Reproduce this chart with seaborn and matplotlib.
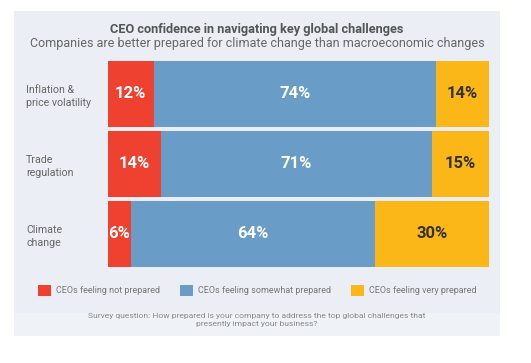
import numpy as np
import matplotlib.pyplot as plt
import seaborn as sns
import pandas as pd
from matplotlib.patches import Rectangle, Patch

# Data
challenges = ['Inflation &\nprice volatility', 'Trade\nregulation', 'Climate\nchange']
not_prepared = [12, 14, 6]
somewhat_prepared = [74, 71, 64]
very_prepared = [14, 15, 30]
series_names = ['CEOs feeling not prepared', 'CEOs feeling somewhat prepared', 'CEOs feeling very prepared']

colors = ['#EF4130', '#699CC7', '#FBB617']
text_colors = ['white', 'white', '#333333']

df = pd.DataFrame({
    'Challenge': challenges,
    'not': not_prepared,
    'some': somewhat_prepared,
    'very': very_prepared,
})
df['cum1'] = df['not']
df['cum2'] = df['not'] + df['some']
df['cum3'] = df['cum2'] + df['very']

sns.set_style('white')
plt.rcParams['font.family'] = ['Roboto', 'DejaVu Sans']

fig = plt.figure(figsize=(5.31, 3.63), dpi=100)
fig.patch.set_facecolor('white')

# panel background
fig.patches.append(Rectangle((14 / 531, 1 - 336 / 363), 486 / 531, 325 / 363,
                             transform=fig.transFigure, facecolor='#EBEEF5',
                             edgecolor='none', zorder=-2))
fig.patches.append(Rectangle((14 / 531, 1 - 336 / 363), 486 / 531, 23 / 363,
                             transform=fig.transFigure, facecolor='#EFF2F7',
                             edgecolor='none', zorder=-1))

ax = fig.add_axes([108 / 531, 1 - 267 / 363, 381 / 531, 206 / 363])
ax.set_facecolor('none')
ax.set_zorder(1)

# stacked bars: draw cumulative totals back to front
bar_w = 66 / 70
for col, c in zip(['cum3', 'cum2', 'cum1'], colors[::-1]):
    sns.barplot(data=df, x=col, y='Challenge', orient='h', color=c,
                width=bar_w, saturation=1, ax=ax, linewidth=0)

ax.set_xlim(0, 100)
ax.set_ylim(len(challenges) - 1 + bar_w / 2, -bar_w / 2)
ax.set_xlabel('')
ax.set_ylabel('')
ax.set_xticks([])
sns.despine(ax=ax, left=True, bottom=True)
ax.tick_params(axis='y', length=0, pad=59, labelsize=7.7, labelcolor='#666666')
for lbl in ax.get_yticklabels():
    lbl.set_horizontalalignment('left')
    lbl.set_linespacing(1.35)

# value labels
for i in range(len(challenges)):
    starts = [0, df['cum1'][i], df['cum2'][i]]
    vals = [df['not'][i], df['some'][i], df['very'][i]]
    for s, v, tc in zip(starts, vals, text_colors):
        ax.text(s + v / 2, i, f'{v}%', ha='center', va='center',
                color=tc, fontsize=12, fontweight='bold')

# titles
fig.text(0.484, 1 - 29 / 363, 'CEO confidence in navigating key global challenges',
         ha='center', va='center', fontsize=9.2, fontweight='bold', color='#555555')
fig.text(0.484, 1 - 43.5 / 363,
         'Companies are better prepared for climate change than macroeconomic changes',
         ha='center', va='center', fontsize=9.0, color='#666666')

# legend
handles = [Patch(facecolor=c, edgecolor='none', label=n) for c, n in zip(colors, series_names)]
leg = fig.legend(handles=handles, loc='center', bbox_to_anchor=(0.484, 1 - 290.5 / 363),
                 ncol=3, frameon=False, fontsize=6.5, handlelength=1.45, handleheight=1.45,
                 handletextpad=0.55, columnspacing=2.2)
for t in leg.get_texts():
    t.set_color('#777777')

# footer
fig.text(0.484, 1 - 320 / 363,
         'Survey question: How prepared is your company to address the top global challenges that\n'
         'presently impact your business?',
         ha='center', va='center', fontsize=6.1, color='#888888', linespacing=1.3)

fig.savefig('out.png', dpi=100)
